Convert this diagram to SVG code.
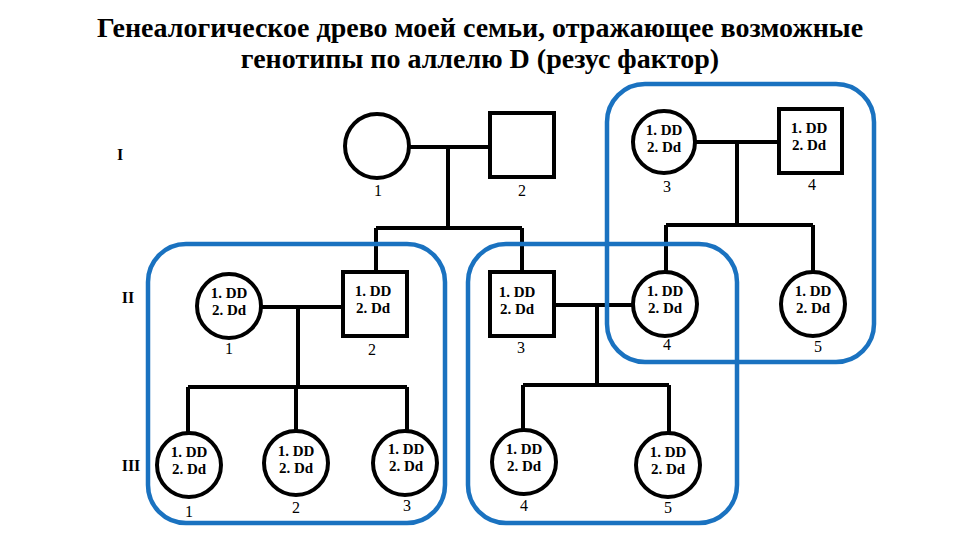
<svg xmlns="http://www.w3.org/2000/svg" width="960" height="540" viewBox="0 0 960 540">
<style>
.title{font-family:"Liberation Serif","DejaVu Serif",serif;font-weight:bold;font-size:28px;fill:#000;text-anchor:middle}
.gen{font-family:"Liberation Serif",serif;font-weight:bold;font-size:16px;fill:#000;text-anchor:middle}
.num{font-family:"Liberation Serif",serif;font-size:16px;fill:#000;text-anchor:middle}
.g{font-family:"Liberation Serif",serif;font-weight:bold;font-size:15px;fill:#000;text-anchor:middle}
.shape{fill:#fff;stroke:#000;stroke-width:4}
.line{fill:none;stroke:#000;stroke-width:4}
.box{fill:none;stroke:#1a72c0;stroke-width:4.5}
</style>
<rect width="960" height="540" fill="#fff"/>
<text class="title" x="480" y="37">Генеалогическое древо моей семьи, отражающее возможные</text>
<text class="title" x="480" y="68">генотипы по аллелю D (резус фактор)</text>
<text class="gen" x="120" y="160">I</text>
<text class="gen" x="128" y="303">II</text>
<text class="gen" x="131" y="471">III</text>
<g id="connectors">
<path class="line" d="M409 147H490M448 147V228M376 228H522M376 228V272M522 228V272"/>
<path class="line" d="M696 142H779M737 142V225M666 225H813M666 225V271M813 225V271"/>
<path class="line" d="M261 307H343M298 307V387M188 387H407M188 387V433M296 387V431M407 387V431"/>
<path class="line" d="M555 305H632M597 305V385M523 385H669M523 385V430M669 385V432"/>
</g>
<g id="I-1"><circle class="shape" cx="377" cy="146" r="32"/><text class="num" x="378" y="196">1</text></g>
<g id="I-2"><rect class="shape" x="490" y="113" width="64" height="64"/><text class="num" x="522" y="196">2</text></g>
<g id="I-3"><circle class="shape" cx="664" cy="142" r="31"/><text class="g" x="664" y="135">1. DD</text><text class="g" x="664" y="152">2. Dd</text><text class="num" x="667" y="192">3</text></g>
<g id="I-4"><rect class="shape" x="779" y="109" width="63" height="64"/><text class="g" x="809" y="133">1. DD</text><text class="g" x="809" y="150">2. Dd</text><text class="num" x="812" y="190">4</text></g>
<g id="II-1"><circle class="shape" cx="229" cy="306" r="32"/><text class="g" x="229" y="298">1. DD</text><text class="g" x="229" y="315">2. Dd</text><text class="num" x="229" y="354">1</text></g>
<g id="II-2"><rect class="shape" x="343" y="272" width="64" height="64"/><text class="g" x="373" y="296">1. DD</text><text class="g" x="373" y="313">2. Dd</text><text class="num" x="372" y="355">2</text></g>
<g id="II-3"><rect class="shape" x="490" y="272" width="64" height="64"/><text class="g" x="517" y="297">1. DD</text><text class="g" x="517" y="314">2. Dd</text><text class="num" x="521" y="353">3</text></g>
<g id="II-4"><circle class="shape" cx="665" cy="304" r="32"/><text class="g" x="665" y="296">1. DD</text><text class="g" x="665" y="313">2. Dd</text><text class="num" x="667" y="350">4</text></g>
<g id="II-5"><circle class="shape" cx="813" cy="304" r="32"/><text class="g" x="813" y="296">1. DD</text><text class="g" x="813" y="313">2. Dd</text><text class="num" x="818" y="352">5</text></g>
<g id="III-1"><circle class="shape" cx="189" cy="465" r="32"/><text class="g" x="189" y="457">1. DD</text><text class="g" x="189" y="474">2. Dd</text><text class="num" x="189" y="517">1</text></g>
<g id="III-2"><circle class="shape" cx="296" cy="463" r="32"/><text class="g" x="296" y="456">1. DD</text><text class="g" x="296" y="473">2. Dd</text><text class="num" x="296" y="513">2</text></g>
<g id="III-3"><circle class="shape" cx="405" cy="463" r="32"/><text class="g" x="406" y="454">1. DD</text><text class="g" x="406" y="471">2. Dd</text><text class="num" x="407" y="511">3</text></g>
<g id="III-4"><circle class="shape" cx="524" cy="462" r="32"/><text class="g" x="524" y="454">1. DD</text><text class="g" x="524" y="471">2. Dd</text><text class="num" x="524" y="511">4</text></g>
<g id="III-5"><circle class="shape" cx="668" cy="465" r="32"/><text class="g" x="668" y="457">1. DD</text><text class="g" x="668" y="474">2. Dd</text><text class="num" x="668" y="513">5</text></g>
<g id="groups">
<rect class="box" x="148" y="244" width="297" height="279" rx="38"/>
<rect class="box" x="468" y="244" width="269" height="279" rx="38"/>
<rect class="box" x="607" y="84" width="267" height="278" rx="38"/>
</g>
</svg>
